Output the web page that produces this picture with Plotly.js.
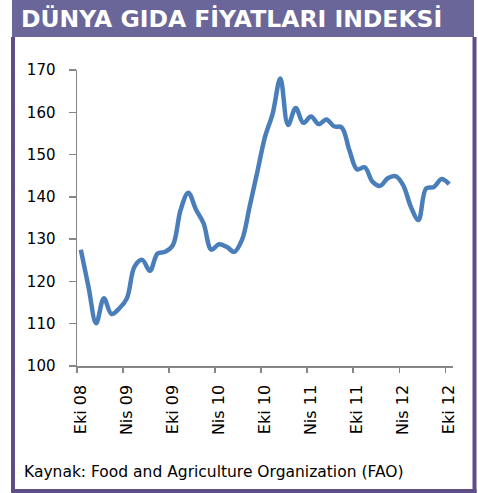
<!DOCTYPE html>
<html>
<head>
<meta charset="utf-8">
<script src="https://cdn.plot.ly/plotly-3.0.1.min.js"></script>
<style>html,body{margin:0;padding:0;background:#fff;}#chart{width:478px;height:493px;}</style>
</head>
<body>
<div id="chart"></div>
<script>
// Monthly categories, Oct 2008 - Oct 2012 (Turkish month abbreviations)
var months = ["Oca","Şub","Mar","Nis","May","Haz","Tem","Ağu","Eyl","Eki","Kas","Ara"];
var categories = [];
for (var y = 2008; y <= 2012; y++) {
  for (var m = 0; m < 12; m++) {
    if ((y === 2008 && m < 9) || (y === 2012 && m > 9)) continue;
    categories.push(months[m] + " " + String(y).slice(2));
  }
}
// Index values
var indexValues = [
  127.5, 118.7, 110.1, 116.0, 112.3, 113.6, 116.0, 123.5, 125.1, 122.5, 126.6, 127.0,
  128.6, 136.9, 141.0, 137.0, 133.7, 127.5, 128.8, 128.2, 127.0, 129.8, 137.7, 145.9,
  154.2, 159.7, 168.0, 157.0, 161.0, 157.5, 159.0, 157.2, 158.3, 156.7, 156.4, 151.0,
  146.5, 147.0, 143.6, 142.6, 144.4, 144.9, 142.8, 137.7, 134.5, 142.0, 142.3, 144.2,
  143.0
];
var yTicks = [100, 110, 120, 130, 140, 150, 160, 170];
var titleText = "DÜNYA GIDA FİYATLARI INDEKSİ";
var sourceText = "Kaynak: Food and Agriculture Organization (FAO)";

// pixel helpers (plot area 77..453 x, 70..366 y)
var L = 77, R = 25, T = 70, B = 127, W = 478, H = 493;
var pw = W - L - R, ph = H - T - B;
function px(x) { return (x - L) / pw; }
function py(y) { return (H - B - y) / ph; }

var header = "#6a6699", border = "#5f4d86";

var trace = {
  x: categories,
  y: indexValues,
  type: "scatter",
  mode: "lines",
  line: { color: "#4a7ebb", width: 4.5, shape: "spline", smoothing: 1 },
  hoverinfo: "x+y"
};

var layout = {
  width: W, height: H,
  margin: { l: L, r: R, t: T, b: B, pad: 0 },
  paper_bgcolor: "#ffffff",
  plot_bgcolor: "#ffffff",
  showlegend: false,
  title: {
    text: "<b>" + titleText + "</b>",
    font: { family: "DejaVu Sans", size: 23.5, color: "#ffffff" },
    xref: "container", yref: "container",
    x: 21 / W, xanchor: "left",
    y: 1 - 19 / H, yanchor: "middle"
  },
  xaxis: {
    type: "category",
    range: [-0.5, categories.length - 0.5],
    tickmode: "linear", tick0: 0, dtick: 6,
    tickson: "boundaries",
    ticks: "outside", ticklen: 5, tickwidth: 1.5, tickcolor: "#868686",
    showline: true, linecolor: "#868686", linewidth: 1.5,
    showgrid: false, zeroline: false,
    tickangle: -90,
    ticklabelstandoff: 11,
    tickfont: { family: "DejaVu Sans", size: 16, color: "#000000" },
    fixedrange: true
  },
  yaxis: {
    range: [100, 170],
    tickmode: "array", tickvals: yTicks, ticktext: yTicks.map(String),
    ticks: "outside", ticklen: 7, tickwidth: 1.5, tickcolor: "#868686",
    showline: true, linecolor: "#868686", linewidth: 1.5,
    showgrid: false, zeroline: false,
    ticklabelstandoff: 10,
    tickfont: { family: "DejaVu Sans", size: 15, color: "#000000" },
    fixedrange: true
  },
  shapes: [
    { type: "rect", xref: "paper", yref: "paper", layer: "below",
      x0: px(12), x1: px(474), y0: py(37), y1: py(0),
      fillcolor: header, line: { width: 0 } },
    { type: "rect", xref: "paper", yref: "paper",
      x0: px(11), x1: px(15), y0: py(493), y1: py(37),
      fillcolor: border, line: { width: 0 } },
    { type: "rect", xref: "paper", yref: "paper",
      x0: px(472.5), x1: px(476.5), y0: py(493), y1: py(37),
      fillcolor: border, line: { width: 0 } },
    { type: "rect", xref: "paper", yref: "paper",
      x0: px(11), x1: px(476.5), y0: py(493), y1: py(489),
      fillcolor: border, line: { width: 0 } }
  ],
  annotations: [
    { text: sourceText, xref: "paper", yref: "paper",
      x: px(22), y: py(472), xanchor: "left", yanchor: "middle",
      showarrow: false,
      font: { family: "DejaVu Sans", size: 15.5, color: "#000000" } }
  ]
};

Plotly.newPlot("chart", [trace], layout, { displayModeBar: false, staticPlot: true });
</script>
</body>
</html>
